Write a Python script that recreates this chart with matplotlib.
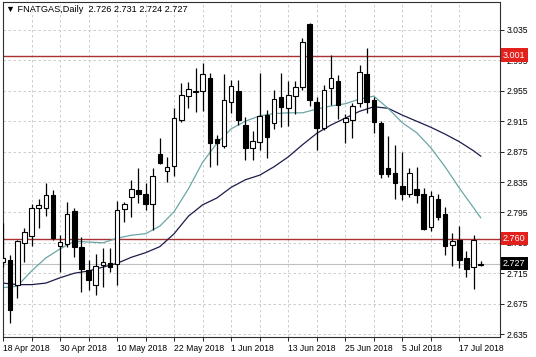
import matplotlib.pyplot as plt
from matplotlib.ticker import FixedLocator, NullFormatter

plt.rcParams['font.family'] = ['Liberation Sans', 'DejaVu Sans']

# Daily candles, 18 Apr 2018 .. 20 Jul 2018 (one bar per trading day)
opens = [2.730, 2.732, 2.700, 2.755, 2.764, 2.801, 2.801, 2.818, 2.751, 2.753,
         2.797, 2.750, 2.719, 2.700, 2.726, 2.728, 2.727, 2.800, 2.815, 2.825,
         2.819, 2.806, 2.872, 2.850, 2.856, 2.917, 2.948, 2.954, 2.955, 2.972,
         2.892, 2.882, 2.940, 2.955, 2.910, 2.880, 2.888, 2.923, 2.913, 2.947,
         2.932, 2.948, 2.960, 3.043, 2.940, 2.906, 2.959, 2.968, 2.914, 2.917,
         2.939, 2.977, 2.943, 2.913, 2.853, 2.847, 2.830, 2.819, 2.826, 2.819,
         2.776, 2.813, 2.793, 2.752, 2.759, 2.735, 2.723, 2.726]
highs = [2.781, 2.739, 2.759, 2.775, 2.806, 2.813, 2.834, 2.824, 2.765, 2.809,
         2.801, 2.763, 2.732, 2.740, 2.748, 2.748, 2.810, 2.809, 2.838, 2.853,
         2.834, 2.853, 2.893, 2.868, 2.932, 2.965, 2.967, 2.985, 2.992, 2.978,
         2.897, 2.977, 2.969, 2.969, 2.921, 2.902, 2.978, 2.930, 2.956, 2.978,
         2.968, 2.968, 3.025, 3.044, 2.947, 2.963, 3.002, 2.976, 2.925, 2.939,
         2.989, 3.011, 2.947, 2.915, 2.896, 2.884, 2.875, 2.853, 2.855, 2.827,
         2.823, 2.819, 2.802, 2.768, 2.777, 2.744, 2.765, 2.731]
lows = [2.723, 2.650, 2.682, 2.730, 2.751, 2.775, 2.790, 2.759, 2.717, 2.750,
        2.736, 2.690, 2.693, 2.686, 2.697, 2.717, 2.700, 2.782, 2.789, 2.807,
        2.798, 2.772, 2.859, 2.835, 2.843, 2.914, 2.932, 2.927, 2.928, 2.855,
        2.857, 2.880, 2.926, 2.910, 2.864, 2.864, 2.877, 2.867, 2.905, 2.907,
        2.909, 2.925, 2.956, 2.935, 2.877, 2.903, 2.936, 2.918, 2.886, 2.893,
        2.934, 2.926, 2.900, 2.840, 2.842, 2.813, 2.811, 2.815, 2.807, 2.772,
        2.771, 2.785, 2.739, 2.725, 2.722, 2.710, 2.694, 2.724]
closes = [2.735, 2.667, 2.757, 2.769, 2.801, 2.805, 2.818, 2.761, 2.756, 2.793,
          2.750, 2.721, 2.706, 2.725, 2.730, 2.723, 2.798, 2.806, 2.826, 2.819,
          2.806, 2.843, 2.860, 2.855, 2.919, 2.950, 2.957, 2.955, 2.977, 2.886,
          2.886, 2.943, 2.961, 2.917, 2.880, 2.889, 2.922, 2.894, 2.944, 2.934,
          2.950, 2.960, 3.019, 2.943, 2.906, 2.956, 2.972, 2.936, 2.919, 2.935,
          2.980, 2.940, 2.914, 2.846, 2.846, 2.834, 2.819, 2.847, 2.818, 2.773,
          2.817, 2.789, 2.751, 2.757, 2.732, 2.721, 2.759, 2.727]

# moving averages, read every second bar
ma_bars = list(range(0, 68, 2)) + [67]
fast_ma = [2.696, 2.698, 2.718, 2.735, 2.747, 2.757, 2.756, 2.755, 2.761, 2.765,
           2.767, 2.777, 2.796, 2.826, 2.861, 2.886, 2.905, 2.915, 2.922, 2.925,
           2.926, 2.926, 2.931, 2.935, 2.938, 2.944, 2.948, 2.932, 2.913, 2.900,
           2.880, 2.855, 2.827, 2.801, 2.788]
slow_ma = [2.702, 2.700, 2.700, 2.702, 2.709, 2.715, 2.718, 2.723, 2.728, 2.736,
           2.742, 2.750, 2.767, 2.790, 2.805, 2.814, 2.828, 2.838, 2.844, 2.855,
           2.868, 2.884, 2.899, 2.910, 2.919, 2.928, 2.934, 2.932, 2.923, 2.915,
           2.907, 2.898, 2.888, 2.876, 2.869]

date_labels = ['18 Apr 2018', '30 Apr 2018', '10 May 2018', '22 May 2018',
               '1 Jun 2018', '13 Jun 2018', '25 Jun 2018', '5 Jul 2018',
               '17 Jul 2018']
price_ticks = [2.635, 2.675, 2.715, 2.755, 2.795, 2.835, 2.875, 2.915,
               2.955, 2.995, 3.035]
resistance = 3.001
support = 2.760
last_price = 2.727
title = '\u25BC FNATGAS,Daily  2.726 2.731 2.724 2.727'

fig = plt.figure(figsize=(5.36, 3.57), dpi=100)
ax = fig.add_axes([3 / 536, 20 / 357, 497 / 536, 335 / 357])
ax.set_xlim(0, 69.7)
ax.set_ylim(2.6311, 3.0718)

# grid like the terminal: dashed light grey
ax.set_xticks(range(0, 68, 8))
ax.xaxis.set_minor_locator(FixedLocator(range(4, 68, 8)))
ax.xaxis.set_minor_formatter(NullFormatter())
ax.set_xticklabels(date_labels)
for lbl in ax.get_xticklabels():
    lbl.set_horizontalalignment('left')
ax.set_yticks(price_ticks)
ax.set_yticklabels(['%.3f' % p for p in price_ticks])
ax.yaxis.tick_right()
ax.grid(True, which='both', color='#c4c4c4', linestyle=(0, (3, 3)), lw=0.6)
ax.set_axisbelow(True)
ax.tick_params(axis='both', which='both', labelsize=6.2, length=3, width=0.6,
               colors='black', pad=2)
for sp in ax.spines.values():
    sp.set_color('#303030')
    sp.set_linewidth(0.8)

# horizontal levels
ax.axhline(resistance, color='#a83232', lw=1.0, zorder=2)
ax.axhline(support, color='#a83232', lw=1.0, zorder=2)
ax.axhline(last_price, color='#c0c0c0', lw=0.8, zorder=1)

# moving averages
ax.plot(ma_bars, slow_ma, color='#1c1c4c', lw=0.9, zorder=2)
ax.plot(ma_bars, fast_ma, color='#6aa6a6', lw=0.9, zorder=2)

# candles
for i in range(len(opens)):
    o, h, l, c = opens[i], highs[i], lows[i], closes[i]
    ax.vlines(i, l, h, color='black', lw=0.9, zorder=3)
    body = max(abs(c - o), 0.0008)
    ax.bar(i, body, bottom=min(o, c), width=0.64,
           color='white' if c >= o else 'black', edgecolor='black',
           lw=0.8, zorder=4)

# price labels on the right scale, drawn over the tick labels they hide
for price, bg in [(resistance, '#e3201b'), (support, '#e3201b'),
                  (last_price, 'black')]:
    ax.annotate('%.3f' % price, xy=(1, price),
                xycoords=('axes fraction', 'data'), xytext=(2.2, 0.5),
                textcoords='offset points', ha='left', va='center',
                fontsize=6.5, color='white', zorder=6, annotation_clip=False,
                bbox=dict(boxstyle='square,pad=0.25', fc=bg, ec='none'))

fig.text(6 / 536, 1 - 10 / 357, title, fontsize=6.6, va='center', ha='left')

fig.savefig('out.png', dpi=100, facecolor='white')
